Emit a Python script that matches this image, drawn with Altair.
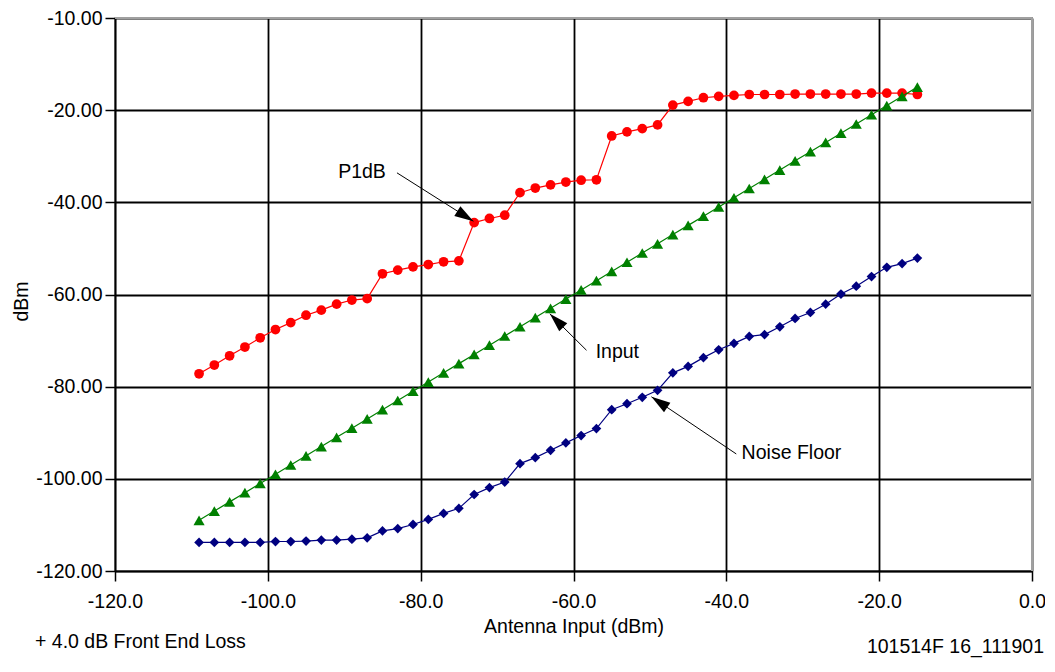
import altair as alt
import pandas as pd

# ---- data ----
x_vals = [-109, -107, -105, -103, -101, -99, -97, -95, -93, -91, -89, -87,
          -85, -83, -81, -79, -77, -75, -73, -71, -69, -67, -65, -63,
          -61, -59, -57, -55, -53, -51, -49, -47, -45, -43, -41, -39,
          -37, -35, -33, -31, -29, -27, -25, -23, -21, -19, -17, -15]

p1db_vals = [-77.2, -75.3, -73.3, -71.4, -69.4, -67.6, -66.1, -64.5, -63.4, -62.1, -61.2, -60.9,
             -55.5, -54.7, -54.0, -53.5, -52.9, -52.7, -44.4, -43.5, -42.8, -37.9, -36.9, -36.2,
             -35.6, -35.2, -35.1, -25.6, -24.7, -24.0, -23.2, -18.9, -18.1, -17.3, -17.0, -16.8,
             -16.6, -16.6, -16.6, -16.5, -16.5, -16.5, -16.5, -16.5, -16.3, -16.3, -16.3, -16.6]

input_vals = [-109, -107, -105, -103, -101, -99, -97, -95, -93, -91, -89, -87,
              -85, -83, -81, -79, -77, -75, -73, -71, -69, -67, -65, -63,
              -61, -59, -57, -55, -53, -51, -49, -47, -45, -43, -41, -39,
              -37, -35, -33, -31, -29, -27, -25, -23, -21, -19, -17, -15]

noise_vals = [-113.8, -113.8, -113.8, -113.8, -113.8, -113.6, -113.6, -113.5, -113.3, -113.3, -113.1, -112.8,
              -111.3, -110.8, -109.9, -108.8, -107.5, -106.4, -103.4, -101.9, -100.7, -96.7, -95.4, -93.8,
              -92.2, -90.6, -89.1, -85.0, -83.7, -82.3, -80.8, -77.0, -75.6, -73.7, -72.0, -70.6,
              -69.1, -68.7, -67.0, -65.2, -63.9, -62.1, -59.9, -58.2, -56.1, -54.1, -53.3, -52.1]

x_ticks = [-120, -100, -80, -60, -40, -20, 0]
y_ticks = [-120, -100, -80, -60, -40, -20, 0]

ann_text = ["P1dB", "Input", "Noise Floor"]
ann_x = [-90.8, -57.1, -38.0]
ann_y = [-33.5, -72.5, -94.4]
arrow_x1 = [-83.1, -58.3, -38.7]
arrow_y1 = [-33.6, -72.1, -94.6]
arrow_x2 = [-73.1, -63.1, -49.8]
arrow_y2 = [-44.1, -64.2, -82.2]
arrow_angle = [32.3, 225.0, 214.0]

FONT = "Liberation Sans"
FS = 19.5

xs = alt.Scale(domain=[-120, 0], nice=False, zero=False)
ys = alt.Scale(domain=[-120, 0], nice=False, zero=False)

x_axis = alt.Axis(values=x_ticks, labelExpr="replace(format(datum.value, '.1f'), '\u2212', '-')",
                  title="Antenna Input (dBm)",
                  labelFont=FONT, labelFontSize=FS, labelColor="black", labelFlush=False,
                  labelOverlap=False, labelPadding=11, tickSize=10, tickColor="black", tickWidth=1.5,
                  domainColor="black", domainWidth=1.5, grid=True, gridColor="black", gridWidth=1.8,
                  titleFont=FONT, titleFontSize=FS, titleFontWeight="normal", titleColor="black",
                  titleBaseline="alphabetic", titleY=61)
y_axis = alt.Axis(values=y_ticks,
                  labelExpr="datum.value == 0 ? '-10.00' : replace(format(datum.value, '.2f'), '\u2212', '-')",
                  title="dBm", labelFont=FONT, labelFontSize=FS, labelColor="black",
                  labelOverlap=False, labelFlush=False, labelPadding=3, tickSize=10, tickColor="black",
                  tickWidth=1.5, domainColor="black", domainWidth=1.5, grid=True, gridColor="black",
                  gridWidth=1.8, titleFont=FONT, titleFontSize=FS, titleFontWeight="normal",
                  titleColor="black", titleAngle=270, titleBaseline="alphabetic", titleAlign="center",
                  titleX=-88, titleY=283)

def X(field):
    return alt.X(f"{field}:Q", scale=xs, axis=x_axis)

def Y(field):
    return alt.Y(f"{field}:Q", scale=ys, axis=y_axis)

df = pd.DataFrame({"x": x_vals, "p1db": p1db_vals, "inp": input_vals, "noise": noise_vals})
base = alt.Chart(df)

def series(field, color, shape, size):
    line = base.mark_line(color=color, strokeWidth=1.2).encode(x=X("x"), y=Y(field))
    pts = base.mark_point(shape=shape, filled=True, color=color, size=size, opacity=1).encode(
        x=X("x"), y=Y(field))
    return line + pts

red = series("p1db", "#ff0000", "circle", 95)
green = series("inp", "#008000", "triangle-up", 125)
blue = series("noise", "#000080",
              "M0,-1L0.5,-0.5L1,0L0.5,0.5L0,1L-0.5,0.5L-1,0L-0.5,-0.5Z", 95)

# gray border lines at the top (y = 0) and right (x = 0) edges, drawn over the black grid
edge_df = pd.DataFrame({"v": [0]})
edge_top = alt.Chart(edge_df).mark_rule(color="#a0a0a0", strokeWidth=2).encode(y=Y("v"))
edge_right = alt.Chart(edge_df).mark_rule(color="#a0a0a0", strokeWidth=2).encode(x=X("v"))

ann_df = pd.DataFrame({"t": ann_text, "x": ann_x, "y": ann_y,
                       "x1": arrow_x1, "y1": arrow_y1, "x2": arrow_x2, "y2": arrow_y2,
                       "ang": arrow_angle})
ann = alt.Chart(ann_df)
texts = ann.mark_text(font=FONT, fontSize=FS, align="left", baseline="middle", color="black").encode(
    x=X("x"), y=Y("y"), text="t:N")
rules = ann.mark_rule(color="black", strokeWidth=1).encode(
    x=X("x1"), y=Y("y1"), x2="x2:Q", y2="y2:Q")
heads = ann.mark_point(shape="M0,0L-1,-0.3L-1,0.3Z", filled=True, color="black", size=1444,
                       opacity=1).encode(
    x=X("x2"), y=Y("y2"), angle=alt.Angle("ang:Q", scale=None))

foot_df = pd.DataFrame({"t": ["+ 4.0 dB Front End Loss"]})
foot_l = alt.Chart(foot_df).mark_text(font=FONT, fontSize=FS, align="left", baseline="middle",
                                      color="black").encode(
    x=alt.value(-80), y=alt.value(623.7), text="t:N")
foot2_df = pd.DataFrame({"t": ["101514F 16_111901"]})
foot_r = alt.Chart(foot2_df).mark_text(font=FONT, fontSize=FS, align="right", baseline="middle",
                                       color="black").encode(
    x=alt.value(929), y=alt.value(629), text="t:N")

chart = alt.layer(edge_top, edge_right, red, green, blue, rules, heads, texts, foot_l, foot_r).properties(
    width=917, height=553,
    padding={"left": 107, "top": 10, "right": 13, "bottom": 88},
    autosize=alt.AutoSizeParams(type="none"),
).configure(font=FONT).configure_view(stroke="#a0a0a0", strokeWidth=1.5)

chart.save("out.html", embed_options={"renderer": "svg", "actions": False})
